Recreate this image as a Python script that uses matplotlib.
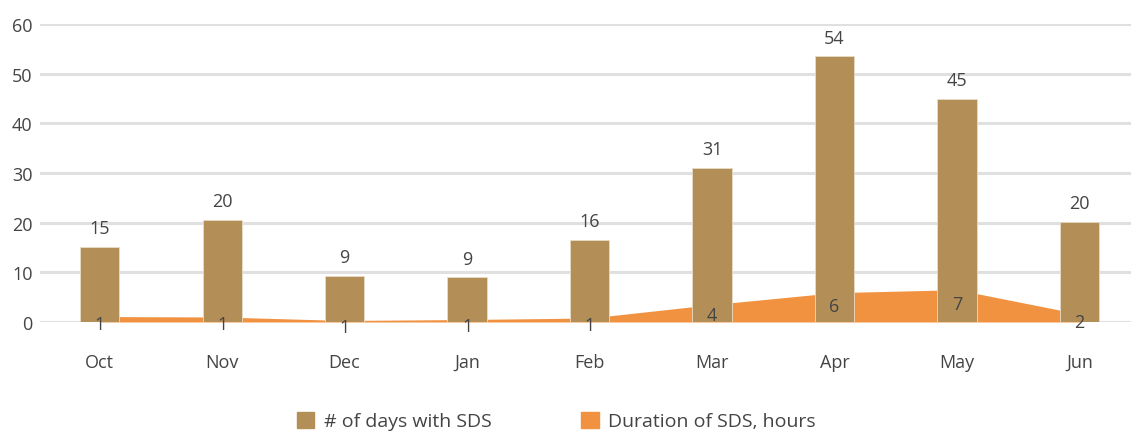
import numpy as np
import matplotlib.pyplot as plt
from matplotlib.patches import Patch

plt.rcParams['font.family'] = ['Open Sans', 'DejaVu Sans']

# Данные
months = ["Oct", "Nov", "Dec", "Jan", "Feb", "Mar", "Apr", "May", "Jun"]
days_sds = [15, 20, 9, 9, 16, 31, 54, 45, 20]
days_bar = [15.2, 20.5, 9.3, 9.0, 16.5, 31.0, 53.5, 45.0, 20.2]
hours_sds = [1.1, 1.0, 0.3, 0.5, 0.8, 3.5, 5.9, 6.5, 1.6]
hours_labels = [1, 1, 1, 1, 1, 4, 6, 7, 2]

bar_color = "#B38F57"
area_color = "#F09240"
text_color = "#444444"

fig = plt.figure(figsize=(11.31, 4.35), dpi=100)
ax = fig.add_axes([0.035, 0.2575, 0.965, 0.685])

x = np.arange(len(months))

# Площадь (длительность) под столбцами
ax.fill_between(x, 0, hours_sds, color=area_color, linewidth=0, zorder=2)

# Столбцы (число дней)
ax.bar(x, days_bar, width=0.32, color=bar_color, edgecolor="#E8DCC6",
       linewidth=0.6, zorder=3)

for xi, h, lab in zip(x, days_bar, days_sds):
    ax.annotate(str(lab), (xi, h), xytext=(0, 7), textcoords="offset points",
                ha="center", va="bottom", fontsize=13, color=text_color)

# подписи длительности внутри столбцов
for xi, v, lab in zip(x, hours_sds, hours_labels):
    ax.text(xi, 0.75 * v - 1.2, str(lab), ha="center", va="center",
            fontsize=13, color=text_color, zorder=4)

ax.set_xlim(-0.49, 8.42)
ax.set_ylim(0, 60)
ax.set_yticks(range(0, 61, 10))
ax.set_xticks(x)
ax.set_xticklabels(months)

ax.grid(axis="y", color="#E0E0E0", linewidth=2.2, zorder=0)
ax.set_axisbelow(True)
for s in ax.spines.values():
    s.set_visible(False)
ax.tick_params(axis="both", length=0, labelsize=13, colors=text_color)
ax.tick_params(axis="x", pad=22)
ax.tick_params(axis="y", pad=5)

handles = [Patch(color=bar_color, label="# of days with SDS"),
           Patch(color=area_color, label="Duration of SDS, hours")]
fig.legend(handles=handles, loc="center", bbox_to_anchor=(0.492, 0.03), ncol=2,
           frameon=False, fontsize=14, handlelength=0.9, handleheight=0.9,
           columnspacing=4.6, handletextpad=0.5, labelcolor=text_color,
           borderpad=0.1)

fig.savefig("out.png", dpi=100)
